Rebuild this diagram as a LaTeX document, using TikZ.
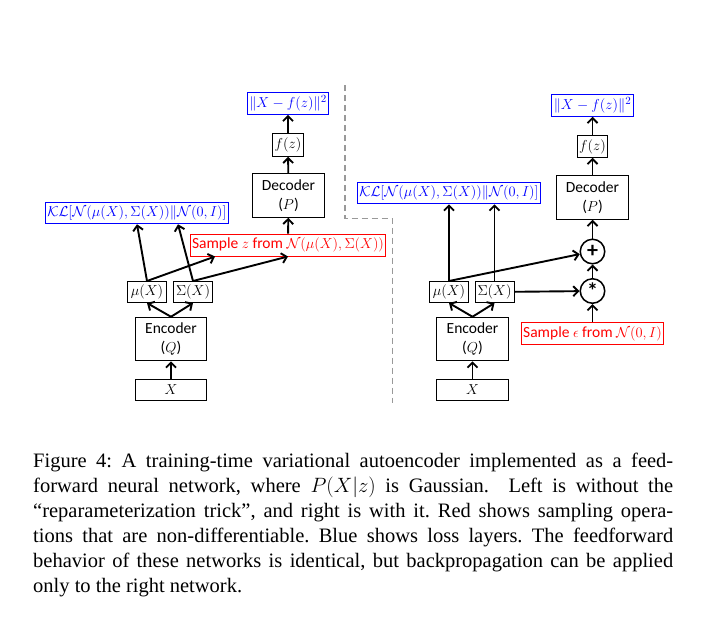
\documentclass[tikz,border=0pt]{standalone}
\usepackage{fontspec}
\setmainfont{Liberation Serif}
\newfontfamily\calibri{Carlito}
\usetikzlibrary{arrows.meta, positioning}

\begin{document}
\begin{tikzpicture}[
            x=1pt, y=-1pt,
            box/.style={draw, line width=1pt, inner sep=2pt, font=\calibri\fontsize{15.5}{19.5}\selectfont},
            layer/.style={box, minimum width=71.5pt, minimum height=43.5pt, align=center},
            loss/.style={box, draw=blue, text=blue, minimum height=21.5pt},
            sample/.style={box, draw=red, text=red, minimum height=22pt},
            small/.style={box, minimum height=21pt},
            op/.style={circle, draw, line width=1.5pt, minimum size=24.5pt, inner sep=0pt, font=\calibri\bfseries\fontsize{22}{22}\selectfont},
            flow/.style={draw, line width=1.9pt, -{Straight Barb[length=5pt, width=10pt]}},
            wall/.style={draw=gray!80, line width=1.6pt, dashed, dash pattern=on 6pt off 4pt},
            captext/.style={font=\fontsize{20.5}{25}\selectfont, text width=640pt, align=justify, inner sep=0pt}
        ]
            \useasboundingbox (0,0) rectangle (722,633);

            % Left network
            \node[box, minimum width=71.5pt, minimum height=21.5pt] (xL) at (171,390) {$X$};
            \node[layer] (encL) at (171,339) {Encoder\\($Q$)};
            \node[small, minimum width=39.5pt] (muL) at (147,292) {$\mu(X)$};
            \node[small, minimum width=39.5pt] (sigL) at (193,292) {$\Sigma(X)$};
            \node[loss] (klL) at (137,213) {$\mathcal{KL}[\mathcal{N}(\mu(X),\Sigma(X))\|\mathcal{N}(0,I)]$};
            \node[sample] (sampL) at (288,245) {Sample $z$ from $\mathcal{N}(\mu(X),\Sigma(X))$};
            \node[layer] (decL) at (288.5,195.5) {Decoder\\($P$)};
            \node[small, minimum height=22.5pt] (fzL) at (288,145) {$f(z)$};
            \node[loss] (lossL) at (288,103.5) {$\|X-f(z)\|^2$};

            % Arrows for left network
            \draw[flow] (xL) -- (encL);
            \draw[flow] (encL.north) -- (muL.south);
            \draw[flow] (encL.north) -- (sigL.south);
            \draw[flow] (muL.north) -- (klL.south);
            \draw[flow] (sigL.north) -- ([xshift=41pt]klL.south);
            \draw[flow] (muL.north) -- ([xshift=-73pt]sampL.south);
            \draw[flow] (sigL.north) -- (sampL.south);
            \draw[flow] (sampL) -- (decL);
            \draw[flow] (decL) -- (fzL);
            \draw[flow] (fzL) -- (lossL);

            % Dividing line
            \draw[wall] (345,85) -- (345,218.5) -- (392.5,218.5) -- (392.5,403);

            % Right network
            \node[box, minimum width=71.5pt, minimum height=21.5pt] (xR) at (472.5,390) {$X$};
            \node[layer] (encR) at (472.5,339) {Encoder\\($Q$)};
            \node[small, minimum width=39pt] (muR) at (449,292) {$\mu(X)$};
            \node[small, minimum width=39pt] (sigR) at (494.5,292) {$\Sigma(X)$};
            \node[loss] (klR) at (449,193) {$\mathcal{KL}[\mathcal{N}(\mu(X),\Sigma(X))\|\mathcal{N}(0,I)]$};
            \node[sample] (sampR) at (592.5,333.5) {Sample $\epsilon$ from $\mathcal{N}(0,I)$};
            \node[op] (times) at (592.5,291) {*};
            \node[op] (plus) at (592.5,251.5) {+};
            \node[layer] (decR) at (592.5,197.5) {Decoder\\($P$)};
            \node[small, minimum height=21.5pt] (fzR) at (592.5,146.5) {$f(z)$};
            \node[loss] (lossR) at (592.5,105.5) {$\|X-f(z)\|^2$};

            % Arrows for right network
            \draw[flow] (xR) -- (encR);
            \draw[flow] (encR.north) -- (muR.south);
            \draw[flow] (encR.north) -- (sigR.south);
            \draw[flow] (muR.north) -- (muR.north |- klR.south);
            \draw[flow] (sigR.north) -- (sigR.north |- klR.south);
            \draw[flow] (muR.north) -- (plus);
            \draw[flow] (sigR) -- (times);
            \draw[flow] (sampR) -- (times);
            \draw[flow] (times) -- (plus);
            \draw[flow] (plus) -- (decR);
            \draw[flow] (decR) -- (fzR);
            \draw[flow] (fzR) -- (lossR);

            % Caption
            \node[captext, anchor=north west] (cap) at (33,453) {\frenchspacing Figure 4: A training-time variational autoencoder implemented as a feed-\linebreak forward neural network, where $P(X|z)$ is Gaussian.\ \ Left is without the\linebreak “reparameterization trick”, and right is with it. Red shows sampling opera-\linebreak tions that are non-differentiable. Blue shows loss layers. The feedforward\linebreak behavior of these networks is identical, but backpropagation can be applied\linebreak only to the right network.};

        \end{tikzpicture}
\end{document}
